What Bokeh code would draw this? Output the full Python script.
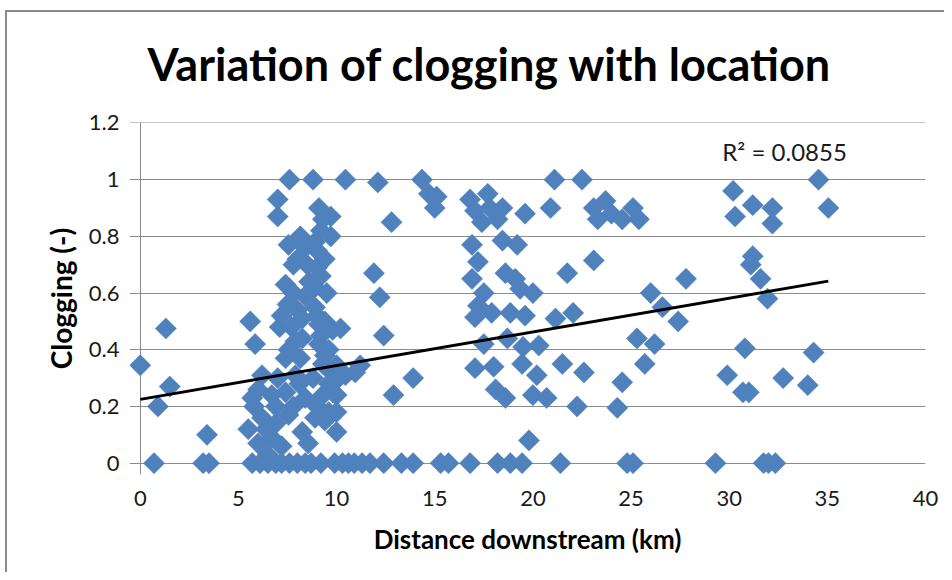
import numpy as np
from bokeh.plotting import figure
from bokeh.models import Range1d, FixedTicker, Label, ColumnDataSource, Title
from bokeh.embed import file_html
from bokeh.resources import INLINE

# ---------------- data ----------------
distance_km = [
    0.0, 0.7, 0.9, 1.3, 1.5, 3.2, 3.4, 3.5,
    7.6, 8.8, 7.0, 7.0, 9.1, 9.3, 8.15, 7.55, 8.9, 7.8, 8.5, 9.0, 8.6, 8.9, 7.4, 8.4,
    7.5, 8.9, 8.25, 7.1, 7.7, 9.1, 5.6, 5.85, 7.55, 8.25, 9.1, 7.4, 8.15, 9.4, 6.2, 7.9,
    8.8, 9.6, 5.7, 6.7, 7.4, 8.4, 9.3, 9.8, 5.5, 6.2, 6.9, 7.55, 8.25, 8.9, 9.6, 6.0,
    6.7, 8.55, 9.8,
    9.2, 9.0, 9.4, 9.2, 9.5, 9.0, 9.4, 9.2, 9.6, 9.3, 9.6, 9.0, 9.4, 8.0, 7.8, 8.0, 8.4,
    7.9, 7.2, 6.9, 6.4, 7.2, 6.5, 5.8, 6.0, 7.8, 8.1, 7.0,
    5.7, 6.1, 6.5, 6.9, 7.2, 7.6, 8.0, 8.4, 8.7, 9.2,
    10.45, 12.1, 14.35, 14.7, 15.1, 15.0, 12.8, 9.7, 9.7, 11.9, 12.2, 10.2, 12.4, 11.2,
    10.45, 9.95, 13.9, 12.9, 10.0, 10.0, 10.0, 10.95, 10.0,
    9.9, 10.3, 10.6, 10.9, 11.3, 11.7, 12.4, 13.3, 13.9, 15.3,
    21.1, 20.9, 16.8, 17.7, 17.05, 17.8, 18.45, 17.4, 18.2, 19.6, 16.9, 18.45, 19.2, 17.2,
    18.6, 19.1, 16.9, 17.5, 19.35, 20.0, 17.2, 17.05, 17.9, 18.85, 19.6, 17.5, 18.7, 19.5,
    20.3, 19.45, 17.05, 18.0, 20.2, 18.1, 18.6, 20.0, 20.7, 19.8, 21.15,
    15.7, 16.8, 18.2, 18.85, 19.45,
    22.5, 23.1, 23.7, 23.3, 24.0, 24.55, 25.1, 25.4, 23.1, 21.75, 26.0, 26.6, 22.05, 25.3,
    26.2, 21.5, 25.7, 22.6, 24.55, 22.25, 24.3,
    21.4, 24.8, 25.1,
    27.8, 27.4, 30.2, 30.3, 31.2, 32.2, 32.2, 31.2, 31.1, 31.6, 31.95, 34.55, 35.05, 30.8,
    29.9, 30.7, 31.0, 32.75, 34.0, 34.3,
    29.3, 31.75, 32.0, 32.35,
]
clogging = [
    0.345, 0.0, 0.2, 0.475, 0.27, 0.0, 0.1, 0.0,
    1.0, 1.0, 0.93, 0.87, 0.9, 0.86, 0.8, 0.77, 0.78, 0.7, 0.7, 0.69, 0.64, 0.62, 0.63, 0.59,
    0.56, 0.55, 0.51, 0.48, 0.48, 0.49, 0.5, 0.42, 0.4, 0.44, 0.42, 0.37, 0.37, 0.38, 0.31, 0.31,
    0.3, 0.33, 0.23, 0.24, 0.25, 0.23, 0.24, 0.25, 0.12, 0.16, 0.14, 0.17, 0.11, 0.16, 0.18, 0.07,
    0.09, 0.07, 0.47,
    0.82, 0.75, 0.72, 0.66, 0.6, 0.52, 0.5, 0.45, 0.4, 0.35, 0.28, 0.2, 0.15, 0.54, 0.6, 0.72, 0.76,
    0.43, 0.52, 0.2, 0.12, 0.06, 0.03, 0.2, 0.26, 0.2, 0.28, 0.3,
    0.0, 0.0, 0.0, 0.0, 0.0, 0.0, 0.0, 0.0, 0.0, 0.0,
    1.0, 0.99, 1.0, 0.95, 0.94, 0.9, 0.85, 0.87, 0.8, 0.67, 0.585, 0.475, 0.45, 0.345,
    0.31, 0.29, 0.3, 0.24, 0.24, 0.18, 0.11, 0.32, 0.345,
    0.0, 0.0, 0.0, 0.0, 0.0, 0.0, 0.0, 0.0, 0.0, 0.0,
    1.0, 0.9, 0.93, 0.95, 0.89, 0.9, 0.9, 0.85, 0.86, 0.88, 0.77, 0.785, 0.77, 0.71,
    0.67, 0.65, 0.65, 0.6, 0.615, 0.6, 0.555, 0.515, 0.53, 0.53, 0.52, 0.42, 0.44, 0.41,
    0.415, 0.35, 0.335, 0.34, 0.31, 0.26, 0.23, 0.24, 0.23, 0.08, 0.51,
    0.0, 0.0, 0.0, 0.0, 0.0,
    1.0, 0.9, 0.925, 0.86, 0.88, 0.86, 0.9, 0.86, 0.715, 0.67, 0.6, 0.55, 0.53, 0.44,
    0.42, 0.35, 0.35, 0.32, 0.285, 0.2, 0.195,
    0.0, 0.0, 0.0,
    0.65, 0.5, 0.96, 0.87, 0.91, 0.9, 0.845, 0.73, 0.7, 0.65, 0.58, 1.0, 0.9, 0.405,
    0.31, 0.25, 0.25, 0.3, 0.275, 0.39,
    0.0, 0.0, 0.0, 0.0,
]

# linear trendline
trend_intercept = 0.225
trend_slope = 0.0119
r_squared_text = "R\u00b2 = 0.0855"

x_ticks = [0, 5, 10, 15, 20, 25, 30, 35, 40]
y_ticks = [0, 0.2, 0.4, 0.6, 0.8, 1.0, 1.2]
y_tick_labels = ["0", "0.2", "0.4", "0.6", "0.8", "1", "1.2"]

title_text = "Variation of clogging with location"
x_label = "Distance downstream (km)"
y_label = "Clogging (-)"

# ---------------- figure ----------------
FONT = "Lato"
GRID = "#8c8c8c"
BLUE = "#4F81BD"
EDGE = "#8a8a8a"

p = figure(width=944, height=572, output_backend="svg", toolbar_location=None,
           x_range=Range1d(-0.55, 40), y_range=Range1d(-0.04, 1.2015),
           min_border_left=129, min_border_right=19, min_border_top=122,
           min_border_bottom=98, background_fill_color="white",
           border_fill_color=None)
p.outline_line_color = None
# chart-area edge (left and top) drawn as a CSS background behind the transparent canvas
p.styles = {
    "background": (f"linear-gradient({EDGE}, {EDGE}) 5px 10px / 2px calc(100% - 10px) no-repeat, "
                   f"linear-gradient({EDGE}, {EDGE}) 5px 10px / calc(100% - 5px) 2px no-repeat, "
                   "white"),
}

# title (left aligned with an offset so that it sits where the reference has it)
p.add_layout(Title(text=title_text, text_font=FONT, text_font_size="45px",
                   text_font_style="bold", text_color="black", align="left",
                   vertical_align="top", offset=18, standoff=60), "above")

# axes
p.xaxis.ticker = FixedTicker(ticks=x_ticks)
p.yaxis.ticker = FixedTicker(ticks=y_ticks)
p.yaxis.major_label_overrides = {t: s for t, s in zip(y_ticks, y_tick_labels)}
for ax in (p.xaxis, p.yaxis):
    ax.axis_line_color = None
    ax.major_tick_line_color = None
    ax.minor_tick_line_color = None
    ax.major_label_text_font = FONT
    ax.major_label_text_font_size = "22px"
    ax.major_label_text_color = "#1a1a1a"
    ax.axis_label_text_font = FONT
    ax.axis_label_text_font_style = "bold"
    ax.axis_label_text_color = "black"
p.xaxis.axis_label_text_font_size = "26px"
p.yaxis.axis_label_text_font_size = "28px"
p.xaxis.axis_label = x_label
p.yaxis.axis_label = y_label
p.yaxis.major_label_standoff = 4
p.xaxis.major_label_standoff = 10
p.xaxis.axis_label_standoff = 14
p.yaxis.axis_label_standoff = 8

# grid lines: horizontal at y ticks, and the vertical axis line at x=0
p.ygrid.ticker = FixedTicker(ticks=y_ticks)
p.ygrid.bounds = (0, 40)
p.ygrid.grid_line_color = GRID
p.ygrid.grid_line_width = 1
p.xgrid.ticker = FixedTicker(ticks=[0])
p.xgrid.bounds = (0, 1.2)
p.xgrid.grid_line_color = GRID
p.xgrid.grid_line_width = 1

src = ColumnDataSource(data=dict(x=distance_km, y=clogging))
p.scatter("x", "y", source=src, marker="square", size=15, angle=np.pi / 4,
          fill_color=BLUE, line_color=BLUE, line_width=0.5)

# trendline over the data range
tx = np.array([min(distance_km), max(distance_km)])
ty = trend_intercept + trend_slope * tx
p.line(tx, ty, line_color="black", line_width=3)

# R^2 label
p.add_layout(Label(x=29.65, y=1.1, text=r_squared_text, text_font=FONT,
                   text_font_size="24px", text_color="#1a1a1a",
                   text_baseline="alphabetic"))

open("out.html", "w").write(file_html(p, INLINE))
